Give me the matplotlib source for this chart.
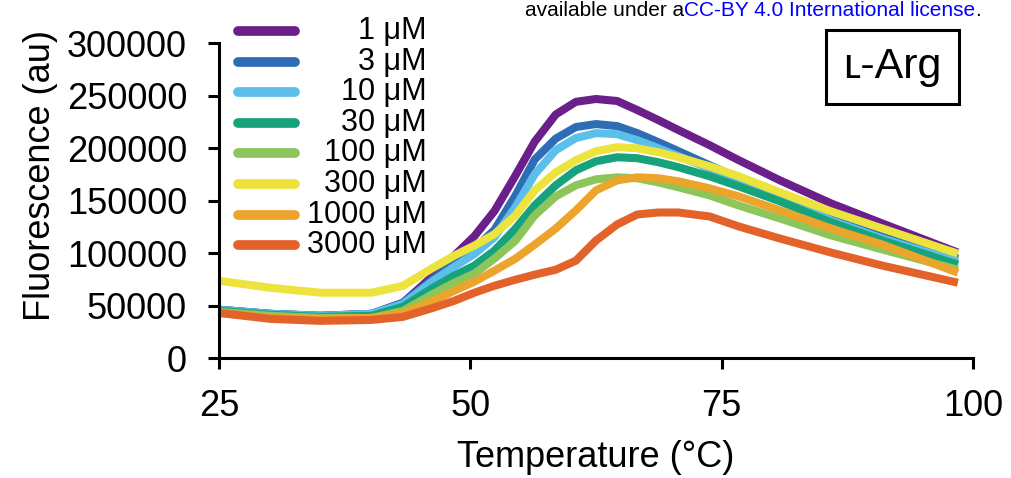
#!/usr/bin/env python3

import matplotlib
matplotlib.use("Agg")
import matplotlib.pyplot as plt
from matplotlib.lines import Line2D

plt.rcParams['font.family'] = ['Liberation Sans', 'DejaVu Sans']

# temperature (deg C) and fluorescence (au)
temp = [25, 30.1, 35.1, 40.2, 43.3, 46.3, 48.4, 50.4, 52.4, 54.5, 56.4, 58.5,
        60.5, 62.5, 64.6, 66.6, 68.7, 70.7, 73.8, 76.7, 80.8, 85.9, 91.0, 98.5]

f_1 = [46000, 42100, 40200, 42100, 52600, 78400, 97500, 116000, 140000, 174000, 206000, 232000,
       244000, 246700, 244800, 236200, 226600, 217100, 202700, 188400, 169200, 147200, 128100, 100400]
f_3 = [46000, 42100, 40200, 42100, 52600, 75500, 90800, 104000, 122000, 154900, 189000, 209000,
       220000, 222800, 220900, 214200, 205600, 197000, 183600, 171200, 154900, 132900, 115700, 94700]
f_10 = [46000, 42100, 40200, 42100, 51600, 73600, 87000, 99000, 115000, 144000, 175000, 198000,
        209500, 214200, 213200, 207500, 199800, 192200, 180700, 169200, 152000, 131000, 113800, 91800]
f_30 = [45000, 41100, 39200, 40200, 48800, 66900, 78400, 88000, 102300, 123300, 145300, 164500,
        178800, 187400, 191200, 190300, 186500, 181700, 173100, 163500, 149200, 129100, 111900, 88900]
f_100 = [44000, 40200, 38200, 38200, 44900, 61200, 71700, 80300, 94700, 111900, 135800, 153900,
         164500, 170200, 172100, 171200, 167300, 162600, 154900, 145300, 132900, 116700, 103300, 84100]
f_300 = [73600, 66900, 62200, 62200, 68800, 86000, 97500, 107100, 118000, 136000, 159700, 176900,
         188400, 197000, 200800, 199800, 196000, 191200, 182600, 173100, 157800, 139600, 123300, 99400]
f_1000 = [43000, 38200, 37300, 38200, 43000, 54500, 64000, 72700, 83200, 94700, 108000, 123300,
          140600, 159700, 169200, 172100, 171200, 168300, 161600, 153900, 140600, 123300, 108000, 81300]
f_3000 = [43000, 37300, 35400, 36300, 39200, 47800, 54500, 62200, 68800, 74600, 79400, 84100,
          92700, 111900, 127200, 136700, 138600, 138600, 134800, 125300, 113800, 100400, 88000, 71700]

series = [f_1, f_3, f_10, f_30, f_100, f_300, f_1000, f_3000]
conc = ['1', '3', '10', '30', '100', '300', '1000', '3000']
colors = ['#6a1f8a', '#2e6db4', '#5bbfea', '#16a37c', '#8dc55b', '#ece33c', '#eca52c', '#e2622a']

xticks = [25, 50, 75, 100]
yticks = [0, 50000, 100000, 150000, 200000, 250000, 300000]

fs = 26
W, H = 1011, 478
fig = plt.figure(figsize=(W/100, H/100), dpi=100)
ax = fig.add_axes([0.2166, 0.251, 0.9624 - 0.2166, 0.910 - 0.251])

for f, c in zip(series, colors):
  ax.plot(temp, f, color=c, lw=5.8, solid_capstyle='butt', solid_joinstyle='round')

ax.set_xlim(25, 100)
ax.set_ylim(0, 300000)
ax.set_xticks(xticks)
ax.set_yticks(yticks)
ax.set_xticklabels([str(t) for t in xticks])
ax.set_yticklabels([str(t) for t in yticks])
ax.tick_params(axis='both', labelsize=fs, width=2.2, length=8, direction='out', color='black')
ax.tick_params(axis='x', pad=14)
ax.tick_params(axis='y', pad=15)
for s in ['top', 'right']:
  ax.spines[s].set_visible(False)
for s in ['left', 'bottom']:
  ax.spines[s].set_linewidth(2.2)
ax.set_xlabel('Temperature (°C)', fontsize=fs, labelpad=12)
ax.set_ylabel('Fluorescence (au)', fontsize=fs)
ax.yaxis.set_label_coords(-0.213, 0.58)

# legend: handle line + right aligned label, one row per concentration
for i, (lab, c) in enumerate(zip(conc, colors)):
  yy = 1 - (31 + i*30.6)/H
  fig.add_artist(Line2D([238/W, 295/W], [yy, yy], color=c, lw=7, solid_capstyle='round',
                        transform=fig.transFigure))
  fig.text(427/W, yy, lab + ' μM', ha='right', va='center', fontsize=22)

# compound label in a box
ax.text(0.893, 0.924, 'ʟ-Arg', transform=ax.transAxes, ha='center', va='center', fontsize=31,
        bbox=dict(boxstyle='square,pad=0.4', fc='white', ec='black', lw=2.2))

# page header at the top edge
r = fig.canvas.get_renderer()
t1 = fig.text(525/W, 1 - 1/H, 'available under a', fontsize=15, color='black', va='top')
bb = t1.get_window_extent(r)
t2 = fig.text(bb.x1/W, 1 - 1/H, 'CC-BY 4.0 International license', fontsize=15, color='#0000ff', va='top')
bb = t2.get_window_extent(r)
fig.text(bb.x1/W, 1 - 1/H, '.', fontsize=15, color='black', va='top')

fig.savefig('out.png', dpi=100)
plt.close()
